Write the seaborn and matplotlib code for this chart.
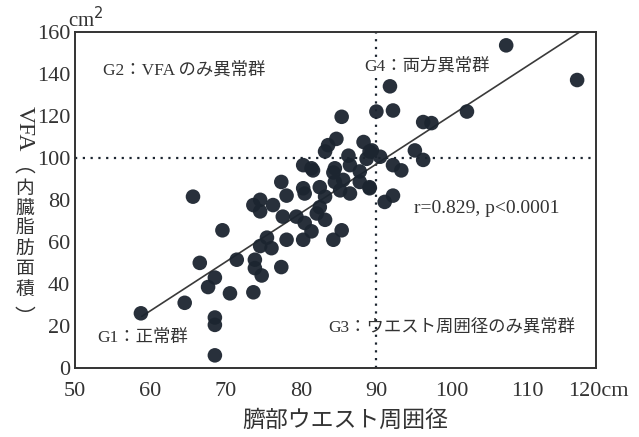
import matplotlib
matplotlib.use("Agg")
import matplotlib.pyplot as plt
import seaborn as sns
import pandas as pd

# 臍部ウエスト周囲径 (cm) と VFA (cm2)
waist = [58.8, 64.6, 68.6, 68.6, 68.6, 65.7, 69.6, 66.6, 68.6, 67.7,
         70.6, 73.7, 71.5, 73.9, 73.9, 74.8, 77.4, 75.5, 76.1, 74.6,
         78.1, 73.7, 74.6, 74.6, 76.3, 77.6, 77.4, 78.1, 80.5, 79.4,
         80.5, 81.4, 80.3, 82.5, 83.2, 82.5, 83.2, 82.1, 84.3, 85.4,
         85.2, 86.5, 85.6, 87.8, 89.1, 81.6, 84.3, 85.4, 84.7, 83.6,
         83.2, 88.3, 89.1, 90.0, 86.3, 80.3, 81.4, 84.5, 86.5, 80.3,
         84.5, 88.7, 87.8, 91.8, 92.2, 96.2, 97.3, 102.0, 89.4, 90.5,
         95.1, 96.2, 92.2, 93.3, 89.1, 92.2, 91.1, 107.2, 116.6]
vfa = [26, 31, 24, 20.5, 6, 81.5, 65.5, 50, 43, 38.5,
       35.5, 36, 51.5, 51.5, 47.5, 44, 48, 62, 57, 58,
       61, 77.5, 74.5, 80, 77.5, 72, 88.5, 82, 83, 72,
       69, 65, 61, 86, 81.5, 76.5, 70.5, 73.5, 61, 65.5,
       84.5, 83, 89.5, 88.5, 85.5, 94, 93, 119.5, 109, 106,
       103, 107.5, 103, 122, 101, 96.5, 95, 95, 96.5, 85.5,
       88.5, 99.5, 93.5, 134, 122.5, 117, 116.5, 122, 103.5, 100.5,
       103.5, 99, 96.5, 94, 86, 82, 79, 153.5, 137]

# 回帰直線
fit_x = [58.9, 117.0]
fit_y = [24.5, 160.0]

x_ticks = [50, 60, 70, 80, 90, 100, 110]
x_labels = ["50", "60", "70", "80", "90", "100", "110"]
y_ticks = [0, 20, 40, 60, 80, 100, 120, 140, 160]

df = pd.DataFrame({"waist": waist, "vfa": vfa})

sns.set_style("white")
plt.rcParams["font.family"] = ["Liberation Serif", "Noto Sans CJK JP"]

ink = "#1c2530"
txt = "#333333"
fig = plt.figure(figsize=(6.39, 4.37), dpi=100)
ax = fig.add_axes([0.1166, 0.158, 0.8161, 0.7695])

sns.scatterplot(data=df, x="waist", y="vfa", s=110, color=ink, edgecolor="none",
                alpha=0.95, ax=ax, zorder=3)
ax.plot(fit_x, fit_y, color="#3a3a3a", lw=1.2, zorder=2)

# 基準線
ax.axvline(90, color=ink, ls=(0, (1, 2.5)), lw=1.6, zorder=1)
ax.axhline(100, color=ink, ls=(0, (1, 2.5)), lw=1.6, zorder=1)

ax.set_xlim(50, 119.1)
ax.set_ylim(0, 160)
ax.set_xticks(x_ticks)
ax.set_xticklabels(x_labels)
ax.set_yticks(y_ticks)
ax.tick_params(direction="in", length=6, width=1.2, labelsize=16, colors=txt)
ax.tick_params(axis="x", pad=10)
ax.tick_params(axis="y", pad=3)
for sp in ax.spines.values():
    sp.set_linewidth(1.4)
    sp.set_color(txt)
ax.set_xlabel("")
ax.set_ylabel("")
# 右端の目盛ラベル (枠の外)
ax.annotate("120cm", xy=(119.4, 0), xycoords=("data", "axes fraction"),
            xytext=(0, -10), textcoords="offset points", ha="center", va="top",
            fontsize=16, color=txt, annotation_clip=False)

jp = 12.5
ax.text(53.8, 141.5, "G2：VFA のみ異常群", fontsize=jp, va="center", color=txt)
ax.text(88.4, 143.5, "G4：両方異常群", fontsize=jp, va="center", color=txt,
        bbox=dict(facecolor="white", edgecolor="none", pad=1), zorder=4)
ax.text(53.0, 14.5, "G1：正常群", fontsize=jp, va="center", color=txt)
ax.text(83.6, 19.5, "G3：ウエスト周囲径のみ異常群", fontsize=jp, va="center", color=txt)
ax.text(95.0, 76, "r=0.829, p<0.0001", fontsize=14, va="center", color=txt)

# x軸ラベル
fig.text(345 / 639, 1 - 421 / 437, "臍部ウエスト周囲径", fontsize=16.5, ha="center",
         va="center", color=txt)
# 単位
fig.text(68 / 639, 1 - 20 / 437, "cm$^2$", fontsize=15, ha="left", va="center",
         color=txt)

# 縦書きのy軸ラベル
fig.text(24 / 639, 1 - 106 / 437, "VFA", fontsize=17, rotation=-90, ha="center",
         va="top", color=txt)
fig.text(25 / 639, 1 - 166 / 437, "︵", fontsize=15, ha="center", va="center",
         color=txt, family="Noto Sans CJK JP")
for i, ch in enumerate(["内", "臓", "脂", "肪", "面", "積"]):
    fig.text(25 / 639, 1 - (189 + i * 20.2) / 437, ch, fontsize=13.5, ha="center",
             va="center", color=txt)
fig.text(25 / 639, 1 - 318 / 437, "︶", fontsize=15, ha="center", va="center",
         color=txt, family="Noto Sans CJK JP")

fig.savefig("out.png", dpi=100)
